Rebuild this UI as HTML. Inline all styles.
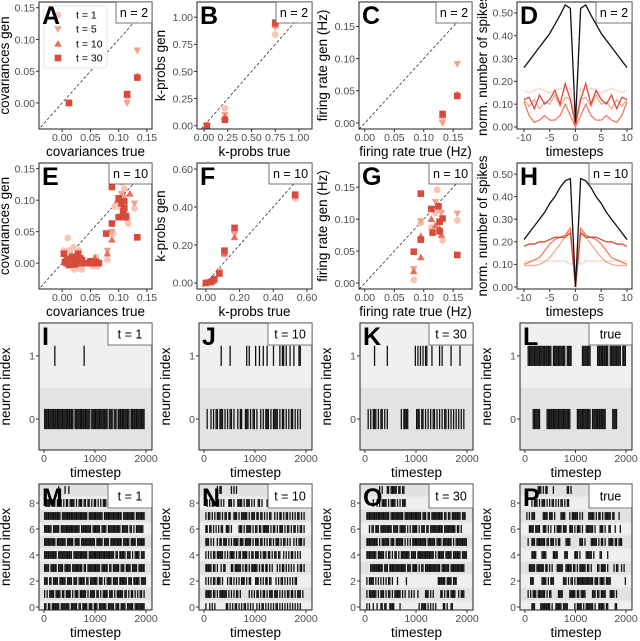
<!DOCTYPE html>
<html><head><meta charset="utf-8"><style>
html,body{margin:0;padding:0;background:#fff}
svg{display:block;font-family:"Liberation Sans",Arial,sans-serif}
</style></head><body>
<svg id="fig" width="640" height="641" viewBox="0 0 640 641" xmlns="http://www.w3.org/2000/svg"></svg>
<script>
// ---------- data ----------
const tColors = ['#f9c4b4','#f3a08c','#e8705a','#d84a3a'];
const tLabels = ['t = 1','t = 5','t = 10','t = 30'];
const shapes = ['circle','down','up','square'];
// Panel A (n=2) covariances
const A_x = [[0.012,0.115,0.133],[0.012,0.115,0.133],[0.012,0.115,0.133],[0.012,0.115,0.133]];
const A_y = [[0.0,0.01,0.04],[0.0,0.0,0.083],[0.0,0.012,0.042],[0.0,0.014,0.040]];
// Panel B k-probs
const B_x = [[0.03,0.22,0.75],[0.03,0.22,0.75],[0.03,0.22,0.75],[0.03,0.22,0.75]];
const B_y = [[0.0,0.16,0.84],[0.0,0.10,0.91],[0.0,0.08,0.93],[0.0,0.055,0.95]];
// Panel C firing rate
const C_x = [[0.132,0.157],[0.132,0.157],[0.132,0.157],[0.132,0.157]];
const C_y = [[0.005,0.042],[0.0,0.092],[0.012,0.044],[0.014,0.042]];
// Panel D cross-correlation, lags 0..10 (mirrored)
const lags = [0,1,2,3,4,5,6,7,8,9,10];
const D_true = [0.02,0.52,0.535,0.49,0.45,0.41,0.38,0.35,0.32,0.29,0.26];
const D_t = [
 [0.02,0.17,0.16,0.17,0.16,0.15,0.16,0.17,0.16,0.15,0.16],
 [0.01,0.12,0.13,0.09,0.14,0.10,0.11,0.08,0.12,0.09,0.12],
 [0.0,0.05,0.10,0.05,0.03,0.03,0.05,0.03,0.02,0.05,0.11],
 [0.01,0.12,0.19,0.10,0.16,0.12,0.10,0.14,0.08,0.13,0.12]];
// Panel E (n=10)
const E_x = [
 [0.003,0.01,0.015,0.022,0.03,0.035,0.045,0.055,0.062,0.012,0.02,0.093,0.1,0.105,0.11,0.117,0.128,0.08,0.09,0.11,0.115,0.06,0.03],
 [0.005,0.015,0.025,0.035,0.06,0.128,0.088,0.11,0.08,0.105],
 [0.005,0.012,0.028,0.033,0.058,0.08,0.088,0.098,0.11,0.12],
 [0.003,0.005,0.008,0.01,0.012,0.015,0.018,0.02,0.022,0.025,0.028,0.03,0.032,0.035,0.04,0.045,0.05,0.055,0.06,0.065,0.088,0.078,0.088,0.1,0.105,0.108,0.11,0.112,0.113,0.11,0.133,0.105,0.1]];
const E_y = [
 [0.02,0.04,0.0,-0.01,0.02,-0.01,0.0,-0.005,-0.005,0.02,0.025,0.09,0.09,0.128,0.13,0.063,0.087,0.005,0.047,0.118,0.07,0.01,-0.008],
 [0.01,0.005,0.012,0.0,0.002,0.095,0.05,0.105,0.02,0.11],
 [0.005,0.0,0.0,0.003,0.008,0.015,0.037,0.1,0.08,0.11],
 [0.015,0.002,0.0,0.005,-0.003,0.0,0.01,0.0,-0.002,0.005,0.015,0.0,0.008,0.005,0.0,0.0,0.003,0.0,0.002,0.0,0.121,0.047,0.063,0.103,0.095,0.083,0.087,0.073,0.075,0.098,0.041,0.073,0.073]];
// Panel F
const F_x = [[0.0,0.02,0.05,0.08,0.11,0.17,0.53],[0.0,0.03,0.05,0.08,0.11,0.17,0.53],[0.0,0.02,0.04,0.08,0.11,0.17,0.53],[0.0,0.03,0.05,0.08,0.11,0.17,0.53]];
const F_y = [[0.0,0.005,0.01,0.065,0.15,0.27,0.445],[0.0,0.005,0.015,0.06,0.16,0.26,0.455],[0.0,0.005,0.01,0.05,0.155,0.24,0.46],[0.0,0.005,0.02,0.05,0.17,0.29,0.465]];
// Panel G
const G_x = [[0.123,0.083,0.157,0.132,0.113,0.12,0.095],[0.157,0.083,0.095,0.13,0.12],[0.095,0.083,0.095,0.113,0.127,0.13,0.12],[0.095,0.083,0.095,0.113,0.115,0.125,0.127,0.127,0.132,0.157]];
const G_y = [[0.146,0.005,0.098,0.067,0.087,0.11,0.094],[0.109,0.022,0.097,0.11,0.127],[0.040,0.018,0.073,0.10,0.085,0.075,0.09],[0.14,0.049,0.068,0.116,0.079,0.12,0.096,0.081,0.101,0.044]];
// Panel H
const H_true = [0.0,0.48,0.47,0.44,0.40,0.37,0.33,0.30,0.27,0.24,0.21];
const H_t = [
 [0.12,0.10,0.115,0.115,0.115,0.115,0.115,0.115,0.115,0.115,0.115],
 [0.0,0.26,0.22,0.19,0.16,0.13,0.11,0.10,0.095,0.095,0.095],
 [0.0,0.26,0.23,0.22,0.21,0.19,0.16,0.13,0.12,0.11,0.10],
 [0.0,0.24,0.22,0.22,0.22,0.21,0.20,0.20,0.19,0.19,0.18]];
// Rasters: each char = 25 timesteps; '#' spike, '.' none
const I_spikes = [
 "#######################+############+#############+###+##+#########+###########",
 "........#......................#................................................"];
const J_spikes = [
 "..#..#.#.##.###.#.#.##.#..#.##..###.#.##.#..#.#.###.#.####.#.##.#.#.##.#.#.#...",
 ".............#......#............#.#....#..#..#..#....#....#.##.#..#..#...##...."];
const K_spikes = [
 "..#.#.###.#.##.#.#..........#.####......###.##.#.#.#.##.#.#.#.##.#.#.#.#.#.#.#..",
 ".......#.........#.....................#.#.#.#.##...#.....#.#......#......#...."];
const L_spikes = [
 "......######.....###################.....###########.###########.....####......",
 "..###################.##########.####........#######.....#########.#########.###."];
const M_spikes = [
 "##.##.######.#######.#####.##.####.###.###.######.#####.###.####.#####.########",
 "#.#.####.####.##.####.#.###.#####.#.####.##.#.####.###.#.#####.##.#.##.#.#.##.#",
 "###.##.####.#####.####.###.#####.##.######.###.#.####.####.######.###.#####.####",
 "####.#####.####.#####.########.##.##########.#####.##.#####.###.####.####.#####.",
 "##########.###########.###########.####################.##.#####.###.#.####.###",
 "#########.#######.#####.####.###########.#####.####.#########.#####.####.######",
 "######.#####.###############.########.######.####.##########.#####.##.#.######.",
 "#############.####################.###########.##############.#########.#######",
 ".####.###.####.#.##.####.#.###.##.##.#.##.#.#.###.##.#.####.###.#.##.#####.#.#..",
 "...........#....#..#..........."];
const N_spikes = [
 ".#..#.#.#........##.#.#.##.#.#.##.#.#.#..#.#.##.#.#.#.#.##.#.#.#.#.#.#.#.#.#...",
 ".#####.##.#.######.#.#.#.##.#......#.#.#.##.#.##.#.###.###.#.#.#.##.##.#.###.#.",
 ".#.#.#.##.###.#...#.##.#.#.#.###.#.##...###.#.#.##.##...#.#.##.#.#.#.#.##......",
 ".#####.##.#..#.##....##.#####.#.##.#.#####.#.##.##.#.#...#.#.##.#.#.#.#..#.##.#",
 ".#.#.#.##.#####.#.#.####.#.##.####.#.##.###.#.###.##.#.##.##..#.#.#.##.#.#.#...",
 ".###.#.#..#.##.###.#.#.####.###.#####.#.###.##.#.#.##.#.###.#.##.#.#..#.#.###.#",
 ".##.##.#.#.#.##..###.#.....###.#.####.#.##.##.#####.#.##.#.###.#.##.#.##.#.##.#",
 ".#.##.#.#.###.#.##.##..###.#.#####.#.###.##.##.#.#.##..#.#.##.#.##.#.#.#.##.#.#",
 "..#.#.##.###.#.#...###.#..####.#.###.#.#..##.#...#.#.#.#..#.#.#.#.#...#.#..#.#.",
 "..........#.##.......#.#.#......"];
const O_spikes = [
 ".#.#..#..#..##.##..####....#..............#.####.#.#.#.#.....##.#..##..........",
 ".#.######.#.###.#.##.#.#####.#.#..#.#.#..#.....###.#.#.....##.#.##.####..#.###.",
 ".#.####.#.#.#.#.#.##.#...#......#........................######.####.###.......",
 "....##########.###.#############.###.####.#.##.############.######.###########..",
 ".########.#####.#.##.#.##.#.#######.####.#############.#.#####.#####.######.####",
 ".#########.#.######.###.######.#.#.#.###########.######.####.#######.#.#########",
 "...#.##.###.#########.####.#####.#.#.####.#.###.##.##########.#########.##.#....",
 ".##################.##########.#############.###.##.#########.##.##.#######.###.",
 "......#..#.#.####.#.####.#.#.###.",
 "...........#.#...##.#####.##.##"];
const P_spikes = [
 ".....###....########.#..#####.####.....#.####.#.######.#..#####.##.....##.......",
 "..#.#.###.######.#.##.....####.....#####.##.####.....###.##.####...####.#........",
 "....###......####.#.###.......###.#.##.#.#############.###.####.####...........#.",
 "...#####.######.##.#.#...#####..#####.##.#.#####.##.#....##.####.#....#.##..#.#.",
 ".....####....####.....####.....###.....###.#....#####.#....##....#.............",
 "..#..###.#######.##.###.#.##....####.......###.#....#####.#.##.#..####.##.###...",
 "...####.####..###.#.#..#.####.###..###.#.###.#..######.#...###.#..##...#...#....",
 ".#.#.###......####.###.#....####...#.#####.#.#....#####.#.##.#.#####.##...#....",
 ".....#.###.#.###.#.#.##.#.#.##.#.##",
 "..........###.#.##....#..........##.#"];

// ---------- helpers ----------
const NS='http://www.w3.org/2000/svg';
const svg=document.getElementById('fig');
function el(tag,attrs,parent){const e=document.createElementNS(NS,tag);for(const k in attrs)e.setAttribute(k,attrs[k]);(parent||svg).appendChild(e);return e;}
function txt(s,x,y,size,anchor,fill,parent,extra){const e=el('text',Object.assign({x:x,y:y,'font-size':size,'text-anchor':anchor||'middle',fill:fill||'#000'},extra||{}),parent);e.textContent=s;return e;}
let clipId=0;
function panel(name,l,r,t,b,xd,yd){
  const g=el('g',{});
  
  
  const sx=v=>l+(v-xd[0])/(xd[1]-xd[0])*(r-l);
  const sy=v=>b-(v-yd[0])/(yd[1]-yd[0])*(b-t);
  const id='c'+(clipId++);
  const cp=el('clipPath',{id:id},g);el('rect',{x:l,y:t,width:r-l,height:b-t},cp);
  const inner=el('g',{'clip-path':'url(#'+id+')'},g);
  return {g,inner,sx,sy,l,r,t,b};
}
function frame(p){const f=el('rect',{x:p.l,y:p.t,width:p.r-p.l,height:p.b-p.t,fill:'none',stroke:'#333','stroke-width':1.1},p.g);
  }
function xaxis(p,ticks,labels,title){
  const g=el('g',{},p.g);
  ticks.forEach((v,i)=>{const x=p.sx(v);el('line',{x1:x,x2:x,y1:p.b,y2:p.b+3,stroke:'#333'},g);
    const t=txt(labels[i],x,p.b+12,10.5,'middle','#4d4d4d',g);});
  const tt=txt(title,(p.l+p.r)/2,p.b+27,13.5,'middle','#000',g);
  
}
function yaxis(p,ticks,labels,title,off){
  const g=el('g',{},p.g);
  ticks.forEach((v,i)=>{const y=p.sy(v);el('line',{x1:p.l-3,x2:p.l,y1:y,y2:y,stroke:'#333'},g);
    const t=txt(labels[i],p.l-4,y+3.8,10.5,'end','#4d4d4d',g);});
  const cx=p.l-(off||30),cy=(p.t+p.b)/2;
  const tt=txt(title,cx,cy,13.5,'middle','#000',g,{transform:'rotate(-90 '+cx+' '+cy+')'});
  
}
function letter(p,s){const t=txt(s,p.l+3,p.t+22,25,'start','#000',p.g,{'font-weight':'bold'});
  }
function badge(p,s,w,h){const g=el('g',{},p.g);
  el('rect',{x:p.r-w,y:p.t,width:w,height:h||21,fill:'#fff',stroke:'#555','stroke-width':0.8},g);
  txt(s,p.r-w/2,p.t+(h||21)/2+4.5,12.5,'middle','#000',g);}
function marker(parent,shape,x,y,color){
  let e;
  if(shape==='circle')e=el('circle',{cx:x,cy:y,r:3.4,fill:color},parent);
  else if(shape==='square')e=el('rect',{x:x-3.3,y:y-3.3,width:6.6,height:6.6,fill:color},parent);
  else if(shape==='up')e=el('polygon',{points:`${x},${y-4} ${x-3.8},${y+2.8} ${x+3.8},${y+2.8}`,fill:color},parent);
  else e=el('polygon',{points:`${x},${y+4} ${x-3.8},${y-2.8} ${x+3.8},${y-2.8}`,fill:color},parent);
  return e;
}
function scatter(p,xs,ys){
  for(let s=0;s<4;s++){xs[s].forEach((xv,i)=>{
    const m=marker(p.inner,shapes[s],p.sx(xv),p.sy(ys[s][i]),tColors[s]);
    
    
  });}
}
function diag(p,lo,hi){const l=el('line',{x1:p.sx(lo),y1:p.sy(lo),x2:p.sx(hi),y2:p.sy(hi),stroke:'#333','stroke-width':0.8,'stroke-dasharray':'3,2'},p.inner);
  }
function corrLines(p,truth,series){
  const full=a=>{const xs=[],ys=[];for(let i=10;i>=1;i--){xs.push(-lags[i]);ys.push(a[i]);}for(let i=0;i<=10;i++){xs.push(lags[i]);ys.push(a[i]);}return [xs,ys];};
  const draw=(a,c,w,name)=>{const [xs,ys]=full(a);const pl=el('polyline',{points:xs.map((x,i)=>p.sx(x)+','+p.sy(ys[i])).join(' '),fill:'none',stroke:c,'stroke-width':w},p.inner);
    };
  const lc=['#fcd3c6','#f5a994','#ee7c66','#d94a38'];
  series.forEach((s,i)=>draw(s,lc[i],1.3,'line-'+tLabels[i].replace(/ = /,'')));
  draw(truth,'#111',1.3,'line-true');
}
function raster(p,rows,h,shades){
  for(let n=0;n<rows.length;n++){
    const b=el('rect',{x:p.l,y:p.sy(n+0.5),width:p.r-p.l,height:p.sy(n-0.5)-p.sy(n+0.5),fill:shades[n%shades.length]},p.inner);
    
  }
  rows.forEach((s,n)=>{
    const y0=p.sy(n+h),y1=p.sy(n-h);
    for(let i=0;i<s.length;i++){const c=s[i];if(c==='.')continue;
      const x0=p.sx(i*25),x1=p.sx(i*25+25);
      const r=el('rect',{x:x0,y:y0,width:Math.max(x1-x0,0.9),height:y1-y0,fill:c==='+'?'#888':'#111'},p.inner);
      
    }
  });
}
const f2=v=>v.toFixed(2);

// ---------- row 1 ----------
const covT=[0,0.05,0.1,0.15];
let p=panel('panel-a',39,152,2,129,[-0.041,0.159],[-0.041,0.159]);
diag(p,-0.05,0.2);scatter(p,A_x,A_y);frame(p);
xaxis(p,covT,covT.map(f2),'covariances true');yaxis(p,covT,covT.map(f2),'covariances gen',30);
// legend (drawn before the panel letter)
const lg=el('g',{},p.g);
el('rect',{x:44,y:6,width:63,height:62,rx:3,fill:'#fff','fill-opacity':0.9,stroke:'#e6e6e6'},lg);
[15,29,44,58].forEach((y,i)=>{const e=el('g',{},lg);
  marker(e,shapes[i],58,y,tColors[i]);txt(tLabels[i],76,y+3.5,10.5,'start','#000',e);});
letter(p,'A');badge(p,'n = 2',36);

const kT=[0,0.25,0.5,0.75,1];
p=panel('panel-b',197,312,2,129,[-0.074,1.137],[-0.03,1.14]);
diag(p,-0.1,1.2);scatter(p,B_x,B_y);frame(p);
xaxis(p,kT,kT.map(f2),'k-probs true');yaxis(p,kT,kT.map(f2),'k-probs gen',32);
letter(p,'B');badge(p,'n = 2',36);

const frT=[0,0.05,0.1,0.15];
p=panel('panel-c',359,472,2,129,[-0.010,0.182],[-0.0094,0.188]);
diag(p,-0.05,0.2);scatter(p,C_x,C_y);frame(p);
xaxis(p,frT,frT.map(f2),'firing rate true (Hz)');yaxis(p,frT,frT.map(f2),'firing rate gen (Hz)',32);
letter(p,'C');badge(p,'n = 2',36);

const lagT=[-10,-5,0,5,10];const nT=[0,0.1,0.2,0.3,0.4,0.5];
p=panel('panel-d',517,632,2,129,[-11.36,10.97],[-0.009,0.548]);
corrLines(p,D_true,D_t);frame(p);
xaxis(p,lagT,lagT.map(String),'timesteps');yaxis(p,nT,nT.map(f2),'norm. number of spikes',30);
letter(p,'D');badge(p,'n = 2',36);

// ---------- row 2 ----------
p=panel('panel-e',39,152,163,289,[-0.041,0.159],[-0.041,0.159]);
diag(p,-0.05,0.2);scatter(p,E_x,E_y);frame(p);
xaxis(p,covT,covT.map(f2),'covariances true');yaxis(p,covT,covT.map(f2),'covariances gen',30);
letter(p,'E');badge(p,'n = 10',43);

const fT=[0,0.2,0.4,0.6];
p=panel('panel-f',197,312,163,289,[-0.053,0.63],[-0.032,0.632]);
diag(p,-0.1,0.7);scatter(p,F_x,F_y);frame(p);
xaxis(p,fT,fT.map(f2),'k-probs true');yaxis(p,fT,fT.map(f2),'k-probs gen',32);
letter(p,'F');badge(p,'n = 10',43);

p=panel('panel-g',359,472,163,289,[-0.010,0.182],[-0.0094,0.188]);
diag(p,-0.05,0.2);scatter(p,G_x,G_y);frame(p);
xaxis(p,frT,frT.map(f2),'firing rate true (Hz)');yaxis(p,frT,frT.map(f2),'firing rate gen (Hz)',32);
letter(p,'G');badge(p,'n = 10',43);

p=panel('panel-h',517,632,163,289,[-11.36,10.97],[-0.009,0.549]);
corrLines(p,H_true,H_t);frame(p);
xaxis(p,lagT,lagT.map(String),'timesteps');yaxis(p,nT,nT.map(f2),'norm. number of spikes',30);
letter(p,'H');badge(p,'n = 10',43);

// ---------- row 3 ----------
const tsT=[0,1000,2000];
function r3(name,l,r,data,L,badgeTxt,bw){
  const x0=l+5, x1=r-6;
  const k=2000/(x1-x0);
  const q=panel(name,l,r,323,450,[-(x0-l)*k,2000+(r-x1)*k],[-0.49,1.52]);
  raster(q,data,0.16,['#e3e3e3','#f0f0f0']);frame(q);
  xaxis(q,tsT,tsT.map(String),'timestep');yaxis(q,[0,1],['0','1'],'neuron index',29);
  letter(q,L);badge(q,badgeTxt,bw,22);
}
r3('panel-i',39,152,I_spikes,'I','t = 1',44);
r3('panel-j',199,312,J_spikes,'J','t = 10',44);
r3('panel-k',360,473,K_spikes,'K','t = 30',44);
r3('panel-l',520,632,L_spikes,'L','true',43);

// ---------- row 4 ----------
function r4(name,l,r,data,L,badgeTxt,bw){
  const x0=l+5, x1=r-6;
  const k=2000/(x1-x0);
  const q=panel(name,l,r,484,610,[-(x0-l)*k,2000+(r-x1)*k],[-0.23,9.46]);
  raster(q,data,0.3,['#efefef','#e2e2e2']);frame(q);
  xaxis(q,tsT,tsT.map(String),'timestep');yaxis(q,[0,2,4,6,8],['0','2','4','6','8'],'neuron index',29);
  letter(q,L);badge(q,badgeTxt,bw,24);
}
r4('panel-m',39,152,M_spikes,'M','t = 1',44);
r4('panel-n',199,312,N_spikes,'N','t = 10',44);
r4('panel-o',360,473,O_spikes,'O','t = 30',44);
r4('panel-p',520,632,P_spikes,'P','true',43);
</script>
</body></html>
